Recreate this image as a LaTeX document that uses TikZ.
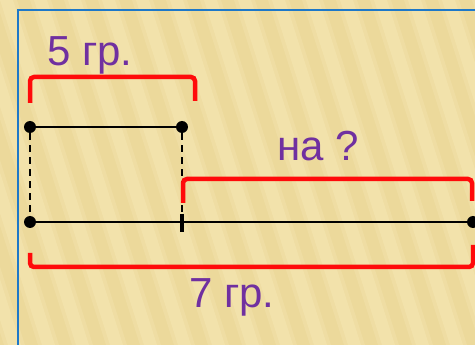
\documentclass[tikz,border=0pt]{standalone}
\usepackage{fontspec}
\setmainfont{Liberation Sans}
\definecolor{bgtan}{RGB}{236,217,155}
\definecolor{stripe}{RGB}{245,230,178}
\definecolor{framebl}{RGB}{30,120,200}
\definecolor{txtpurple}{RGB}{112,48,160}
\definecolor{bred}{RGB}{255,10,10}
\tikzset{
  dot/.style={circle,fill=black,inner sep=0pt,minimum size=12pt},
  brace/.style={draw=bred,line width=4.5pt,rounded corners=4pt},
  seg/.style={draw=black,line width=2.4pt},
  guide/.style={draw=black,line width=1.5pt,dash pattern=on 7pt off 5pt},
  lbl/.style={text=txtpurple,font=\fontsize{42}{46}\selectfont,inner sep=0pt}
}
\begin{document}
\begin{tikzpicture}[x=1pt,y=-1pt]
\useasboundingbox (0,0) rectangle (475,345);
\fill[bgtan] (0,0) rectangle (475,345);
\begin{scope}
\clip (0,0) rectangle (475,345);
\foreach \i in {-6,...,16} {
  \fill[stripe,opacity=0.6] (\i*34,0) -- (\i*34+13,0) -- (\i*34+13+110,345) -- (\i*34+110,345) -- cycle;
  \fill[stripe,opacity=0.35] (\i*34-4,0) -- (\i*34+17,0) -- (\i*34+17+110,345) -- (\i*34-4+110,345) -- cycle;
}
\end{scope}
\draw[framebl,line width=2pt] (18,345) -- (18,10) -- (475,10);
% points
\node[dot] (a) at (30,127) {};
\node[dot] (b) at (182,127) {};
\node[dot] (c) at (30,222) {};
\node[dot] (d) at (473,222) {};
\coordinate (mt) at (182,214);
\coordinate (mb) at (182,232);
\coordinate (bg) at (182,212);
% segments
\draw[seg] (a) -- (b);
\draw[seg] (c) -- (d);
\draw[guide] (a) -- (c);
\draw[guide] (b) -- (bg);
\draw[black,line width=4.5pt] (mt) -- (mb);
% braces
\draw[brace] (30,103) -- (30,77) -- (195,77) -- (195,101);
\draw[brace] (183,203) -- (183,179) -- (472,179) -- (472,201);
\draw[brace] (30,253) -- (30,267) -- (473,267) -- (473,245);
% labels
\node[lbl] (t1) at (90,55) {5 гр.};
\node[lbl] (t2) at (318,146) {на ?};
\node[lbl] (t3) at (232,297) {7 гр.};
\end{tikzpicture}
\end{document}
